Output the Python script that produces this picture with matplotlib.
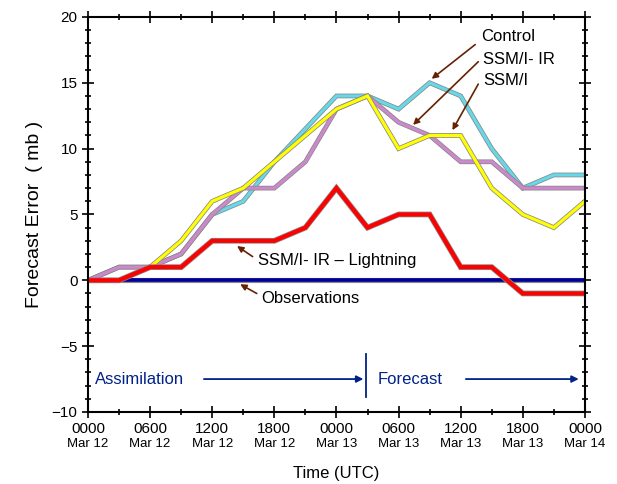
import matplotlib
matplotlib.use("Agg")
import matplotlib.pyplot as plt
import matplotlib.patheffects as pe
import matplotlib.transforms as mtrans
import numpy as np

plt.rcParams['font.family'] = ['Liberation Sans', 'DejaVu Sans']

# hours since 0000 UTC Mar 12, every 3 h
hours = [0, 3, 6, 9, 12, 15, 18, 21, 24, 27, 30, 33, 36, 39, 42, 45, 48]
control = [0, 1, 1, 2, 5, 6, 9, 11.5, 14, 14, 13, 15, 14, 10, 7, 8, 8]
ssmi_ir = [0, 1, 1, 2, 5, 7, 7, 9, 13, 14, 12, 11, 9, 9, 7, 7, 7]
ssmi = [0, 0, 1, 3, 6, 7, 9, 11, 13, 14, 10, 11, 11, 7, 5, 4, 6]
lightning = [0, 0, 1, 1, 3, 3, 3, 4, 7, 4, 5, 5, 1, 1, -1, -1, -1]
observations = [0] * 17

tick_hours = [0, 6, 12, 18, 24, 30, 36, 42, 48]
tick_times = ["0000", "0600", "1200", "1800", "0000", "0600", "1200", "1800", "0000"]
tick_days = ["Mar 12", "Mar 12", "Mar 12", "Mar 12", "Mar 13", "Mar 13", "Mar 13", "Mar 13", "Mar 14"]

fig = plt.figure(figsize=(6.17, 4.84), dpi=100)
ax = fig.add_axes([0.1426, 0.1488, 0.8054, 0.8162])

def outlined(y, color, lw):
    ax.plot(hours, y, color=color, lw=lw, solid_joinstyle='miter',
            path_effects=[pe.Stroke(linewidth=lw + 1.1, foreground='#888888'), pe.Normal()])

outlined(observations, '#000099', 2.6)
outlined(control, '#66d8e8', 2.3)
outlined(ssmi_ir, '#cc88cc', 2.3)
outlined(ssmi, '#ffff00', 2.3)
outlined(lightning, '#ff0000', 3.0)

ax.set_xlim(0, 48)
ax.set_ylim(-10, 20)
ax.set_yticks([-10, -5, 0, 5, 10, 15, 20])
ax.set_yticklabels(["\u221210", "\u22125", "0", "5", "10", "15", "20"], fontsize=11)
ax.set_yticks(np.arange(-10, 21, 1), minor=True)
ax.set_xticks(tick_hours)
ax.set_xticklabels(tick_times, fontsize=11)
ax.set_xticks(np.arange(0, 49, 3), minor=True)
ax.tick_params(which='both', direction='inout', top=True, right=True, width=1.2)
ax.tick_params(which='major', length=9, pad=3)
ax.tick_params(which='minor', length=5)
for s in ax.spines.values():
    s.set_linewidth(1.5)

trans = mtrans.blended_transform_factory(ax.transData, ax.transAxes)
for h, d in zip(tick_hours, tick_days):
    ax.text(h, -0.065, d, transform=trans, ha='center', va='top', fontsize=9.5)

ax.set_xlabel("Time (UTC)", fontsize=12, labelpad=21)
ax.set_ylabel("Forecast Error  ( mb )", fontsize=14, labelpad=6)

brown = '#662200'
navy = '#002288'
arr = dict(arrowstyle='-|>', color=brown, lw=1.2, mutation_scale=9, shrinkA=0, shrinkB=0)
ax.annotate("", xy=(33.2, 15.3), xytext=(37.4, 17.9), arrowprops=arr)
ax.annotate("", xy=(31.4, 11.8), xytext=(37.7, 16.6), arrowprops=arr)
ax.annotate("", xy=(35.2, 11.4), xytext=(37.7, 14.9), arrowprops=arr)
ax.annotate("", xy=(14.4, 2.6), xytext=(15.9, 1.8), arrowprops=arr)
ax.annotate("", xy=(14.7, -0.3), xytext=(16.3, -1.0), arrowprops=arr)
ax.text(38.0, 18.5, "Control", fontsize=12, va='center')
ax.text(38.2, 16.8, "SSM/I- IR", fontsize=12, va='center')
ax.text(38.2, 15.2, "SSM/I", fontsize=12, va='center')
ax.text(16.4, 1.5, "SSM/I- IR \u2013 Lightning", fontsize=12, va='center')
ax.text(16.7, -1.4, "Observations", fontsize=12, va='center')

# assimilation / forecast
ax.text(0.7, -7.5, "Assimilation", fontsize=12, color=navy, va='center')
ax.text(28.0, -7.5, "Forecast", fontsize=12, color=navy, va='center')
narr = dict(arrowstyle='-|>', color=navy, lw=1.3, mutation_scale=10, shrinkA=0, shrinkB=0)
ax.annotate("", xy=(26.6, -7.5), xytext=(11.2, -7.5), arrowprops=narr)
ax.annotate("", xy=(47.4, -7.5), xytext=(36.5, -7.5), arrowprops=narr)
ax.plot([26.9, 26.9], [-5.6, -8.9], color=navy, lw=1.3)

fig.savefig("out.png", dpi=100)
